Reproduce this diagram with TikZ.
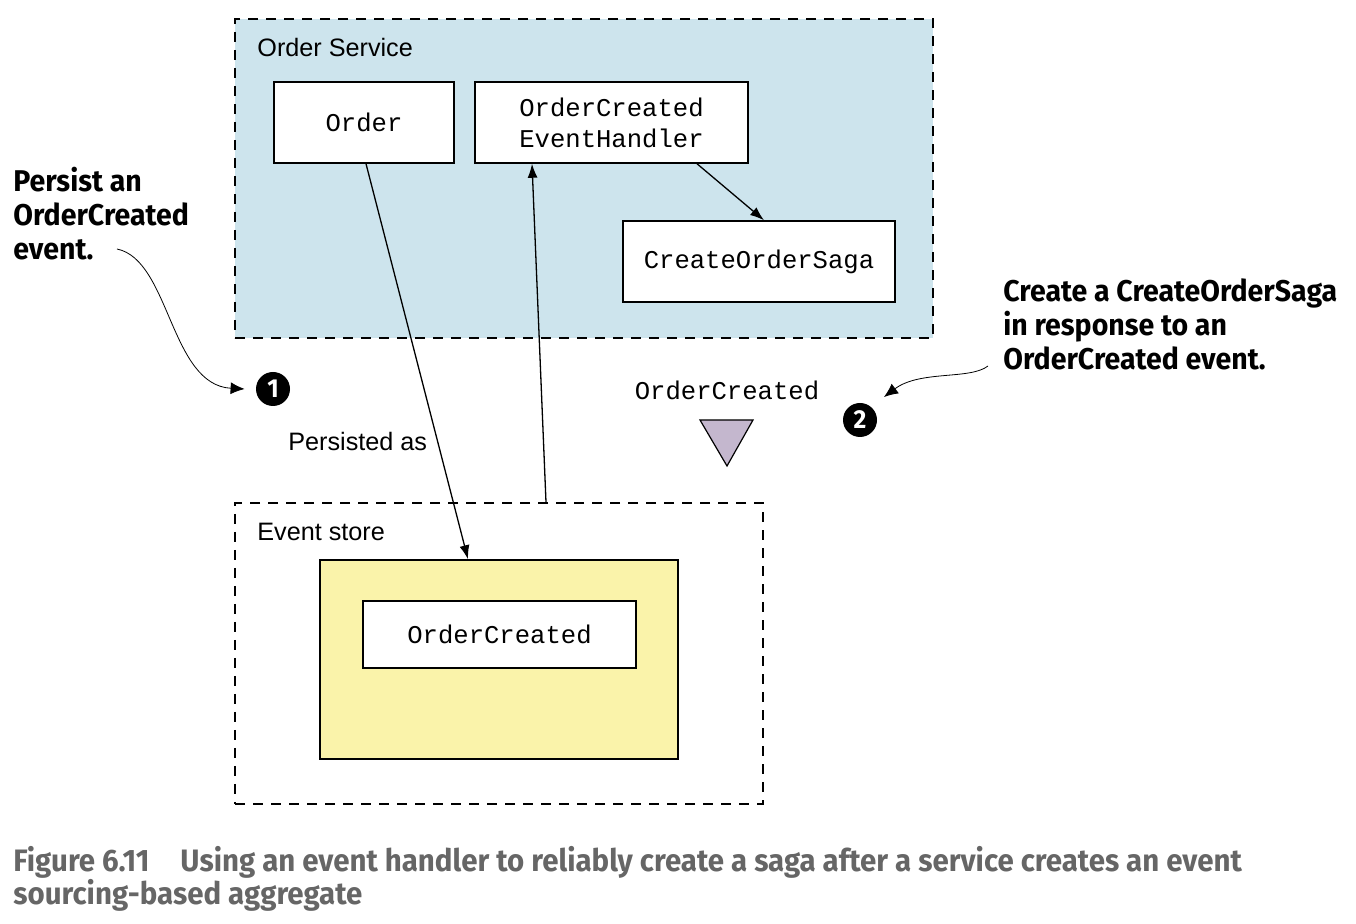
\documentclass[tikz,border=0pt]{standalone}
\usepackage{fontspec}
\setmainfont{Liberation Sans}
\setmonofont{Liberation Mono}
\newfontfamily\calloutfont[FakeStretch=0.95]{Fira Sans}
\newfontfamily\capfont[FakeStretch=0.95]{Fira Sans}
\usetikzlibrary{arrows.meta,calc}
\definecolor{svcblue}{RGB}{205,228,237}
\definecolor{storeyellow}{RGB}{250,243,170}
\definecolor{evtlilac}{RGB}{196,183,206}
\definecolor{capgray}{RGB}{102,102,102}
\tikzset{
  container/.style={draw, dash pattern=on 5pt off 4pt, line width=0.75pt, inner sep=0pt},
  box/.style={draw, fill=white, line width=0.75pt, inner sep=0pt, align=center,
    font=\ttfamily\fontsize{12.8}{15.5}\selectfont},
  lbl/.style={inner sep=0pt, font=\fontsize{12.6}{15}\selectfont},
  arr/.style={-{Latex[length=7pt,width=5pt]}, line width=0.65pt},
  callarr/.style={-{Latex[length=7pt,width=6pt]}, line width=0.4pt},
  badge/.style={circle, fill=black, text=white, minimum size=17pt, inner sep=0pt,
    font=\calloutfont\bfseries\fontsize{13}{13}\selectfont},
  note/.style={inner sep=0pt, align=left, font=\calloutfont\bfseries\fontsize{15}{17}\selectfont},
}
\begin{document}
\begin{tikzpicture}[x=0.5pt,y=-0.5pt]
\useasboundingbox (0,0) rectangle (1356,924);
% Order Service container
\node[container, fill=svcblue, minimum width=349pt, minimum height=159.5pt] (svc) at (584,178.5) {};
\node[lbl, anchor=base west] (svclabel) at (257,57) {Order Service};
\node[box, minimum width=90pt, minimum height=40.5pt] (order) at (364,122.5) {Order};
\node[box, minimum width=136.5pt, minimum height=40.5pt] (handler) at (611.5,122.5) {OrderCreated\\EventHandler};
\node[box, minimum width=136pt, minimum height=40.5pt] (saga) at (759,261.5) {CreateOrderSaga};
% Event store
\node[container, minimum width=264pt, minimum height=150.5pt] (store) at (499,653.5) {};
\node[lbl, anchor=base west] (storelabel) at (257,541) {Event store};
\node[draw, fill=storeyellow, line width=0.75pt, minimum width=179pt, minimum height=99.5pt, inner sep=0pt] (log) at (499,659.5) {};
\node[box, minimum width=136.5pt, minimum height=33.5pt] (evt) at (499.5,634.5) {OrderCreated};
% connectors
\draw[arr] ($(order.south)+(2,0)$) -- ($(log.north)+(-31,0)$);
\draw[arr] ($(store.north)+(47,0)$) -- ($(handler.south)+(-79.5,0)$);
\draw[arr] ($(handler.south)+(85.5,0)$) -- ($(saga.north)+(5,0)$);
\node[lbl, anchor=base west] (persisted) at (288,451) {Persisted as};
% event
\node[inner sep=0pt, anchor=base, font=\ttfamily\fontsize{12.8}{15.5}\selectfont] (evlabel) at (727,400) {OrderCreated};
\draw[fill=evtlilac, line width=0.6pt] (700,420) -- (753,420) -- (727,466) -- cycle;
% callouts
\node[badge] (b1) at (273,389) {1};
\node[badge] (b2) at (860,420) {2};
\node[note, anchor=base west] (note1) at (13,260) {Persist an\\OrderCreated\\event.};
\node[note, anchor=base west] (note2) at (1003,370) {Create a CreateOrderSaga\\in response to an\\OrderCreated event.};
\coordinate (c1) at (117,249);
\draw[callarr] (c1) .. controls (170,260) and (170,385) .. ($(b1.west)+(-11,0)$);
\coordinate (c2) at (988,366);
\draw[callarr] (c2) .. controls (970,380) and (920,370) .. ($(b2)+(24,-23)$);
% caption
\node[inner sep=0pt, anchor=base west, align=left, text=capgray, font=\capfont\bfseries\fontsize{15.5}{17}\selectfont] (caption) at (13,905) {Figure 6.11\quad Using an event handler to reliably create a saga after a service creates an event\\sourcing-based aggregate};
\end{tikzpicture}
\end{document}
